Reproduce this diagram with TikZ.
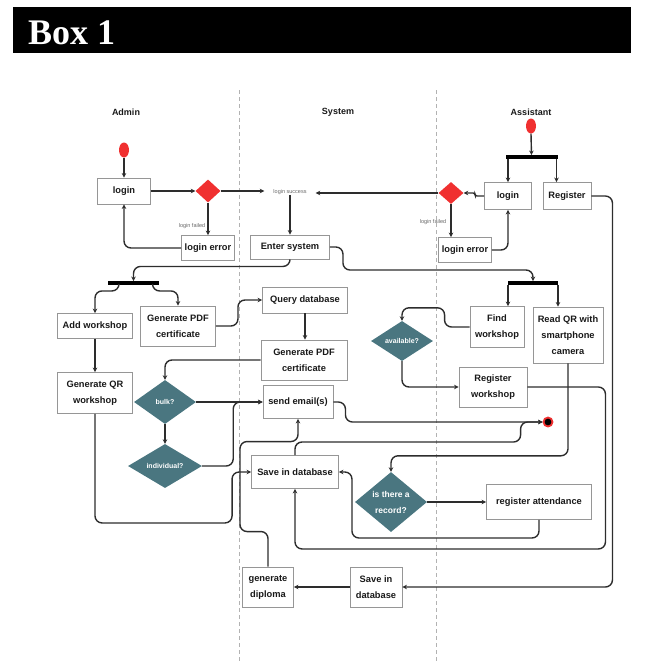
\documentclass[tikz,border=0pt]{standalone}
\usepackage{fontspec}
\setmainfont{Liberation Sans}
\newfontfamily\titlefont{Liberation Serif}
\usetikzlibrary{arrows.meta,shapes.geometric,calc}
\definecolor{teal1}{RGB}{74,118,128}
\definecolor{red1}{RGB}{240,48,48}
\definecolor{line1}{RGB}{45,45,45}
\definecolor{bord}{RGB}{150,150,150}
\begin{document}
\begin{tikzpicture}[x=1pt,y=-1pt,
 box/.style={draw=bord,line width=0.9pt,fill=white,align=center,inner sep=1pt,font=\fontsize{9.3}{16}\selectfont\bfseries,text=black!90},
 dia/.style={diamond,fill=teal1,inner sep=0pt,align=center,text=white,font=\fontsize{7}{16}\selectfont\bfseries},
 rdia/.style={diamond,fill=red1,inner sep=0pt,minimum width=25pt,minimum height=23pt},
 startdot/.style={ellipse,fill=red1,inner sep=0pt,minimum width=10pt,minimum height=15pt},
 forkbar/.style={rectangle,fill=black,inner sep=0pt,minimum height=3.5pt},
 conn/.style={draw=line1,line width=1.4pt,-{Stealth[length=4.5pt,width=4.5pt]},rounded corners=7pt},
 smalltxt/.style={font=\fontsize{5.5}{6}\selectfont,text=black!60,inner sep=0pt},
 lanetitle/.style={font=\fontsize{9}{10}\selectfont\bfseries,text=black!90},
]
\useasboundingbox (0,0) rectangle (647,662);
% title
\fill[black] (13,7) rectangle (631,53);
\node[anchor=base west,inner sep=0pt,text=white,font=\titlefont\fontsize{36}{40}\selectfont\bfseries] (title) at (28,44) {Box 1};
% lanes
\draw[dashed,dash pattern=on 4pt off 3pt,draw=gray!60,line width=0.8pt] (239,90) -- (239,662);
\draw[dashed,dash pattern=on 4pt off 3pt,draw=gray!60,line width=0.8pt] (436,90) -- (436,662);
\node[lanetitle] (tadmin) at (126,112) {Admin};
\node[lanetitle] (tsys) at (338,112) {System};
\node[lanetitle] (tasst) at (531,112) {Assistant};

% Admin nodes
\node[startdot] (startA) at (124,150) {};
\node[box,minimum width=53pt,minimum height=26pt] (loginA) at (124,191) {login};
\node[rdia] (redA) at (208,191) {};
\node[box,minimum width=53pt,minimum height=25pt] (loginerrA) at (208,248) {login error};
\node[smalltxt] (lfA) at (192,226) {login failed};
\node[forkbar,minimum width=51pt] (barA) at (133.5,283) {};
\node[box,minimum width=75pt,minimum height=25pt] (addws) at (95,326) {Add workshop};
\node[box,minimum width=75pt,minimum height=40pt] (genpdfA) at (178,326) {Generate PDF\\certificate};
\node[box,minimum width=75pt,minimum height=41pt] (genqr) at (95,393) {Generate QR\\workshop};
\node[dia,minimum width=62pt,minimum height=44pt] (bulk) at (165,402) {bulk?};
\node[dia,minimum width=74pt,minimum height=44pt] (indiv) at (165,466) {individual?};

% System nodes
\node[smalltxt,inner xsep=9pt] (lsucc) at (290,192) {login success};
\node[box,minimum width=79pt,minimum height=24pt] (enter) at (290,247) {Enter system};
\node[box,minimum width=85pt,minimum height=26pt] (querydb) at (305,300) {Query database};
\node[box,minimum width=86pt,minimum height=40pt] (genpdfS) at (304,360) {Generate PDF\\certificate};
\node[box,minimum width=70pt,minimum height=33pt] (sendem) at (298,402) {send email(s)};
\node[box,minimum width=87pt,minimum height=33pt] (saveA) at (295,472) {Save in database};
\node[box,minimum width=51pt,minimum height=40pt] (diploma) at (268,587) {generate\\diploma};
\node[dia,minimum width=72pt,minimum height=60pt,font=\fontsize{8.5}{16}\selectfont\bfseries] (record) at (391,502) {is there a\\record?};
\node[box,minimum width=52pt,minimum height=40pt] (saveB) at (376,587) {Save in\\database};

% Assistant nodes
\node[startdot] (startB) at (531,126) {};
\node[forkbar,minimum width=52pt] (barB1) at (531.5,157) {};
\node[box,minimum width=47pt,minimum height=27pt] (loginB) at (508,196) {login};
\node[box,minimum width=48pt,minimum height=27pt] (register) at (567,196) {Register};
\node[rdia,minimum height=22pt] (redB) at (451,193) {};
\node[smalltxt] (lfB) at (433,222) {login failed};
\node[box,minimum width=53pt,minimum height=25pt] (loginerrB) at (465,250) {login error};
\node[forkbar,minimum width=50pt] (barB2) at (533,283) {};
\node[box,minimum width=54pt,minimum height=41pt] (findws) at (497,327) {Find\\workshop};
\node[box,minimum width=70pt,minimum height=56pt] (readqr) at (568,335) {Read QR with\\smartphone\\camera};
\node[dia,minimum width=62pt,minimum height=40pt] (avail) at (402,341) {available?};
\node[box,minimum width=68pt,minimum height=40pt] (regws) at (493,387) {Register\\workshop};
\node[box,minimum width=105pt,minimum height=35pt] (regatt) at (539,502) {register attendance};
\node[circle,fill=black,draw=red1,line width=1.8pt,inner sep=0pt,minimum size=9pt] (endn) at (548,422) {};

% helper coordinates
\coordinate (bAl) at ($(barA.south)+(-14.5,0)$);
\coordinate (bAr) at ($(barA.south)+(19,0)$);
\coordinate (bB1r) at ($(barB1.south)+(25,0)$);
\coordinate (bB2l) at ($(barB2.south)+(-25,0)$);
\coordinate (bB2r) at ($(barB2.south)+(25,0)$);

% Admin connectors
\draw[conn] (startA.south) -- (loginA.north);
\draw[conn] (loginA.east) -- (redA.west);
\draw[conn] (redA.east) -- (redA.east -| lsucc.west);
\draw[conn] (redA.south) -- (loginerrA.north);
\draw[conn] (loginerrA.west) -| (loginA.south);
\draw[conn] (enter.south) -- ++(0,7) -| (barA.north);
\draw[conn] (bAl) -- ++(0,6) -| (addws.north);
\draw[conn] (bAr) -- ++(0,6) -| (genpdfA.north);
\draw[conn] (genpdfA.east) -- ++(22,0) |- (querydb.west);
\draw[conn] (querydb.south) -- (querydb.south |- genpdfS.north);
\draw[conn] (genpdfS.west) -| (bulk.north);
\draw[conn] (bulk.east) -- (sendem.west);
\draw[conn] (bulk.south) -- (indiv.north);
\draw[conn] (indiv.east) -- ++(31,0) |- (sendem.west);
\draw[conn] (addws.south) -- (genqr.north);
\draw[conn] (genqr.south) -- ++(0,109) -| ($(saveA.west)+(-19,0)$) -- (saveA.west);

% System connectors
\draw[conn] (lsucc.south) -- (enter.north);
\draw[conn] (enter.east) -| ++(13,23) -| (barB2.north);
\draw[conn] (sendem.east) -- ++(12,0) |- (endn.west);
\draw[conn] (saveA.north) |- ($(endn.west)+(-22,20)$) |- (endn.west);
\draw[conn] (diploma.north) -- ++(0,-35) -| ++(-28,-90) -| (sendem.south);
\draw[conn] (saveB.west) -- (diploma.east);

% Assistant connectors
\draw[conn] (startB.south) -- (barB1.north);
\draw[conn] (barB1.south -| loginB.north) -- (loginB.north);
\draw[conn] (bB1r) -- (bB1r |- register.north);
\draw[conn,rounded corners=2pt] (loginB.west) -- ++(-9,0) |- (redB.east);
\draw[conn] (redB.west) -- (redB.west -| lsucc.east);
\draw[conn] (redB.south) -- (redB.south |- loginerrB.north);
\draw[conn] (loginerrB.east) -| (loginB.south);
\draw[conn] (register.east) -- ++(21,0) |- (saveB.east);
\draw[conn] (bB2l) -- (bB2l |- findws.north);
\draw[conn] (bB2r) -- (bB2r |- readqr.north);
\draw[conn] (findws.west) -- ++(-25,0) |- ($(avail.north)+(0,-13)$) -- (avail.north);
\draw[conn] (avail.south) |- (regws.west);
\draw[conn] (regws.east) -- ++(78,0) |- ($(saveA.south)+(0,60)$) -- (saveA.south);
\draw[conn] (readqr.south) |- ($(record.north)+(0,-16)$) -- (record.north);
\draw[conn] (record.east) -- (regatt.west);
\draw[conn] (regatt.south) |- ($(saveA.east)+(13,66)$) |- (saveA.east);
\end{tikzpicture}
\end{document}
